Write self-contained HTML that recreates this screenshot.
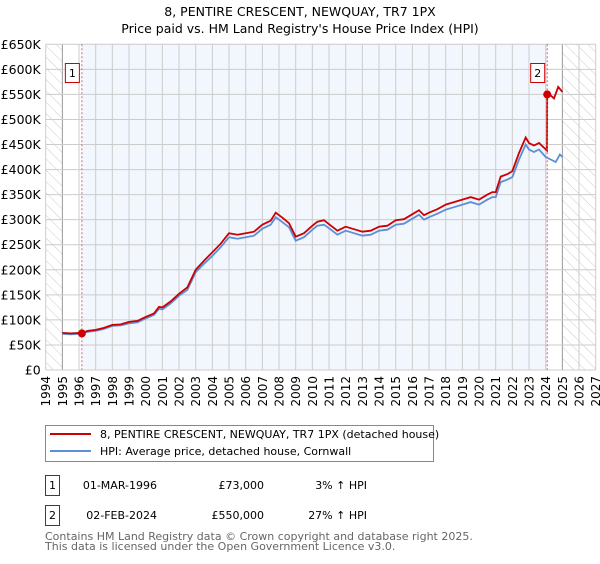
<!DOCTYPE html>
<html><head><meta charset="utf-8"><style>
body{margin:0;background:#fff;font-family:"DejaVu Sans","Liberation Sans",sans-serif;}
svg text{font-family:"DejaVu Sans","Liberation Sans",sans-serif;}
</style></head><body>
<svg id="chart" width="600" height="560" viewBox="0 0 600 560" xmlns="http://www.w3.org/2000/svg">
<defs>
<pattern id="hatch" width="8" height="8" patternUnits="userSpaceOnUse" patternTransform="rotate(-45)">
<line x1="0" y1="0" x2="0" y2="8" stroke="#ccc" stroke-width="1"/></pattern>
</defs>
<text x="300" y="16" text-anchor="middle" font-size="12.5">8, PENTIRE CRESCENT, NEWQUAY, TR7 1PX</text>
<text x="300" y="33" text-anchor="middle" font-size="12.5">Price paid vs. HM Land Registry's House Price Index (HPI)</text>
<g id="bg"></g><g id="grid"></g><g id="axes"></g><g id="series"></g><g id="marks"></g>

<g>
<rect x="45.5" y="425.5" width="388" height="36" fill="#fff" stroke="#888"/>
<line x1="50" y1="434" x2="91" y2="434" stroke="#cc0000" stroke-width="2"/>
<text x="100" y="438" font-size="11">8, PENTIRE CRESCENT, NEWQUAY, TR7 1PX (detached house)</text>
<line x1="50" y1="451" x2="91" y2="451" stroke="#5b8fd6" stroke-width="2"/>
<text x="100" y="455" font-size="11">HPI: Average price, detached house, Cornwall</text>
</g>
<g font-size="11">
<rect x="45.5" y="475.5" width="14" height="20" fill="#fff" stroke="#cc0000"/>
<text x="52.5" y="489" text-anchor="middle">1</text>
<text x="157" y="489" text-anchor="end">01-MAR-1996</text>
<text x="264" y="489" text-anchor="end">£73,000</text>
<text x="367" y="489" text-anchor="end">3% ↑ HPI</text>
<rect x="45.5" y="505.5" width="14" height="20" fill="#fff" stroke="#cc0000"/>
<text x="52.5" y="519" text-anchor="middle">2</text>
<text x="157" y="519" text-anchor="end">02-FEB-2024</text>
<text x="264" y="519" text-anchor="end">£550,000</text>
<text x="367" y="519" text-anchor="end">27% ↑ HPI</text>
</g>
<text x="45" y="540" font-size="11" fill="#666">Contains HM Land Registry data © Crown copyright and database right 2025.</text>
<text x="45" y="550" font-size="11" fill="#666">This data is licensed under the Open Government Licence v3.0.</text>
</svg>
<script>
const yearTicks=[1994,1995,1996,1997,1998,1999,2000,2001,2002,2003,2004,2005,2006,2007,2008,2009,2010,2011,2012,2013,2014,2015,2016,2017,2018,2019,2020,2021,2022,2023,2024,2025,2026,2027];
const priceTicks=[0,50000,100000,150000,200000,250000,300000,350000,400000,450000,500000,550000,600000,650000];
const priceLabels=["£0","£50K","£100K","£150K","£200K","£250K","£300K","£350K","£400K","£450K","£500K","£550K","£600K","£650K"];
const hpiDates=[1995,1995.5,1996,1996.5,1997,1997.5,1998,1998.5,1999,1999.5,2000,2000.5,2000.8,2001,2001.5,2002,2002.5,2003,2003.5,2004,2004.5,2005,2005.5,2006,2006.5,2007,2007.5,2007.8,2008.2,2008.6,2009,2009.5,2010,2010.3,2010.7,2011,2011.5,2012,2012.5,2013,2013.5,2014,2014.5,2015,2015.5,2016,2016.4,2016.7,2017,2017.5,2018,2018.5,2019,2019.5,2020,2020.5,2020.8,2021,2021.3,2021.7,2022,2022.4,2022.8,2023,2023.3,2023.6,2024,2024.3,2024.6,2024.85,2025];
const hpiValues=[72000,71000,72000,76000,78000,82000,88000,89000,93000,95000,103000,110000,122000,121000,133000,148000,160000,195000,212000,228000,245000,265000,262000,265000,268000,282000,290000,305000,295000,285000,258000,265000,280000,288000,290000,283000,270000,278000,273000,268000,270000,278000,280000,290000,292000,302000,310000,300000,305000,312000,320000,325000,330000,335000,330000,340000,345000,345000,375000,380000,385000,420000,450000,440000,435000,440000,425000,420000,415000,430000,425000];
const priceDates=[1995,1995.5,1996,1996.17,1996.5,1997,1997.5,1998,1998.5,1999,1999.5,2000,2000.5,2000.8,2001,2001.5,2002,2002.5,2003,2003.5,2004,2004.5,2005,2005.5,2006,2006.5,2007,2007.5,2007.8,2008.2,2008.6,2009,2009.5,2010,2010.3,2010.7,2011,2011.5,2012,2012.5,2013,2013.5,2014,2014.5,2015,2015.5,2016,2016.4,2016.7,2017,2017.5,2018,2018.5,2019,2019.5,2020,2020.5,2020.8,2021,2021.3,2021.7,2022,2022.4,2022.8,2023,2023.3,2023.6,2024.08,2024.09,2024.3,2024.5,2024.75,2025];
const priceValues=[74000,73000,74000,73000,78000,80000,84000,90000,91000,96000,98000,106000,113000,126000,125000,137000,152000,165000,200000,218000,235000,252000,273000,270000,273000,276000,290000,298000,314000,304000,293000,266000,273000,288000,296000,299000,291000,278000,286000,281000,276000,278000,286000,288000,299000,301000,311000,319000,309000,314000,321000,330000,335000,340000,345000,340000,350000,355000,355000,386000,391000,397000,433000,464000,453000,448000,453000,438000,550000,548000,542000,565000,555000];
const sales=[[1996.17,73000,"1"],[2024.09,550000,"2"]];

const X0=45.7,X1=595.7,Y0=370,Y1=44.3;
const xs=y=>X0+(y-1994)/(2027-1994)*(X1-X0);
const ys=v=>Y0-v/650000*(Y0-Y1);
const NS="http://www.w3.org/2000/svg";
function mk(parent,tag,attrs){const e=document.createElementNS(NS,tag);for(const k in attrs)e.setAttribute(k,attrs[k]);document.getElementById(parent).appendChild(e);return e;}

let r;
r=mk('bg','rect',{x:xs(1994),y:Y1,width:xs(1995)-xs(1994),height:Y0-Y1,fill:'url(#hatch)'});


r=mk('bg','rect',{x:xs(2025),y:Y1,width:xs(2027)-xs(2025),height:Y0-Y1,fill:'url(#hatch)'});


r=mk('bg','rect',{x:xs(sales[0][0]),y:Y1,width:xs(sales[1][0])-xs(sales[0][0]),height:Y0-Y1,fill:'#f2f6fd'});



yearTicks.forEach(yr=>{
 const l=mk('grid','line',{x1:xs(yr),x2:xs(yr),y1:Y1,y2:Y0,stroke:(yr==1995||yr==2025)?'#999':'#ccc','stroke-width':1});
 
 
 const t=mk('axes','text',{x:0,y:0,'font-size':12,'text-anchor':'end',transform:`translate(${xs(yr)+4.5},${Y0+6}) rotate(-90)`});
 t.textContent=yr;
 
 
});
priceTicks.forEach((v,i)=>{
 const l=mk('grid','line',{x1:X0,x2:X1,y1:ys(v),y2:ys(v),stroke:'#ccc','stroke-width':1});
 
 
 const t=mk('axes','text',{x:X0-5,y:ys(v)+4.5,'font-size':12.5,'text-anchor':'end'});
 t.textContent=priceLabels[i];
 
 
});

function pts(d,v){return d.map((x,i)=>xs(x).toFixed(1)+','+ys(v[i]).toFixed(1)).join(' ');}
const hl=mk('series','polyline',{points:pts(hpiDates,hpiValues),fill:'none',stroke:'#5b8fd6','stroke-width':1.8});


const pl=mk('series','polyline',{points:pts(priceDates,priceValues),fill:'none',stroke:'#cc0000','stroke-width':1.8});



sales.forEach(s=>{
 const l=mk('marks','line',{x1:xs(s[0]),x2:xs(s[0]),y1:Y1,y2:Y0,stroke:'#e06060','stroke-width':1,'stroke-dasharray':'2,2'});
 
 
 const c=mk('marks','circle',{cx:xs(s[0]),cy:ys(s[1]),r:4,fill:'#cc0000'});
 
 
 const b=mk('marks','rect',{x:xs(s[0])-16.5,y:63.5,width:14,height:19,fill:'#fff',stroke:'#cc0000'});
 
 
 const t=mk('marks','text',{x:xs(s[0])-9.5,y:77,'font-size':11,'text-anchor':'middle'});
 t.textContent=s[2];
 
 
});
</script>
</body></html>
